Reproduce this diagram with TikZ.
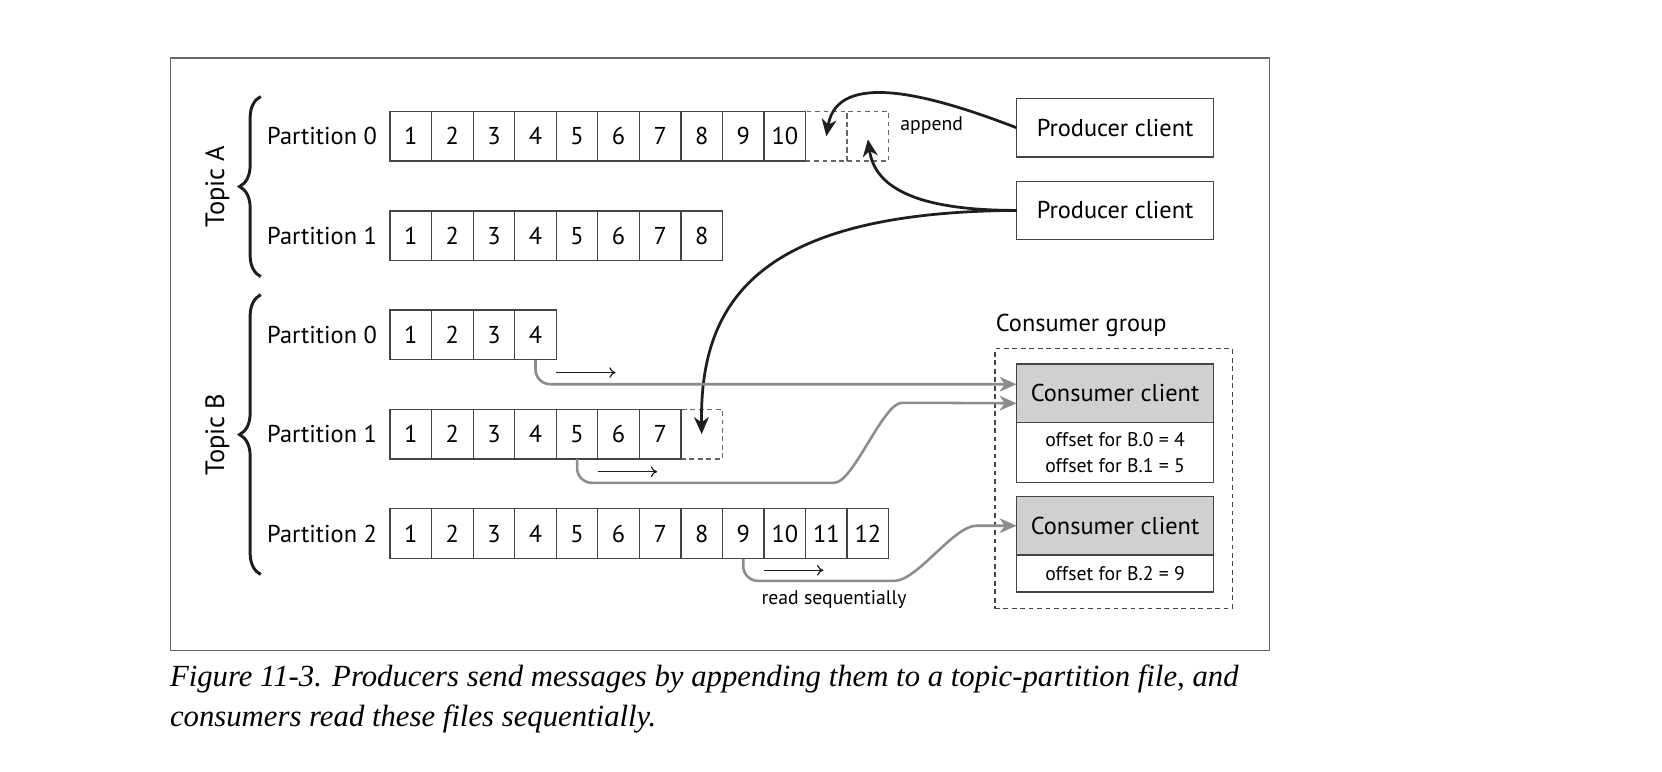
\documentclass[tikz,border=0pt]{standalone}
\usepackage{fontspec}
\setmainfont{PT Sans}
\newfontfamily\capfont{Liberation Serif}
\usetikzlibrary{arrows.meta,decorations.pathreplacing,calc}
\definecolor{linegray}{HTML}{444444}
\definecolor{framegray}{HTML}{666666}
\definecolor{readgray}{HTML}{8C8C8C}
\definecolor{headgray}{HTML}{D0D0D0}
\definecolor{inkdark}{HTML}{1E1E1E}
\tikzset{
  cell/.style={draw=linegray, line width=0.6pt, minimum width=19.6pt, minimum height=23.5pt,
    inner sep=0pt, outer sep=0pt, font=\fontsize{11.5}{13}\selectfont},
  dcell/.style={cell, draw=framegray, dash pattern=on 2.2pt off 1.8pt},
  plabel/.style={anchor=east, inner sep=0pt, font=\fontsize{11.5}{13}\selectfont},
  toplabel/.style={rotate=90, inner sep=0pt, font=\fontsize{12.5}{14}\selectfont},
  client/.style={draw=linegray, line width=0.6pt, minimum width=93pt, minimum height=27.5pt,
    inner sep=0pt, outer sep=0pt, font=\fontsize{11.5}{13}\selectfont},
  offbox/.style={client, align=center, font=\fontsize{9.3}{12}\selectfont},
  small/.style={inner sep=0pt, font=\fontsize{9.3}{11}\selectfont},
  bracestyle/.style={decorate, decoration={brace, amplitude=10pt, aspect=0.5}, line width=1.4pt, draw=inkdark},
  readarrow/.style={draw=readgray, line width=1.2pt, rounded corners=7pt,
    -{Stealth[length=8pt,width=7pt,inset=2.5pt]}},
  prodarrow/.style={draw=inkdark, line width=1.3pt, -{Stealth[length=8pt,width=7pt,inset=2.5pt]}},
  seqarrow/.style={draw=inkdark, line width=0.55pt, -{To[length=3pt,width=5pt]}},
  caption/.style={anchor=base west, inner sep=0pt, font=\capfont\itshape\fontsize{14.5}{17}\selectfont}
}
\begin{document}
\begin{tikzpicture}[x=0.5pt,y=-0.5pt]
\useasboundingbox (0,0) rectangle (1568,728);
% frame
\node[draw=framegray, line width=0.6pt, minimum width=518.5pt, minimum height=279.5pt,
  anchor=north west, inner sep=0pt] (frame) at (160,54) {};
% dashed (future) cells
\node[dcell] (a0-11) at ({368+39.2*10.5},128.5) {};
\node[dcell] (a0-12) at ({368+39.2*11.5},128.5) {};
\node[dcell] (b1-8) at ({368+39.2*7.5},409.5) {};
% cells
\foreach \r/\y/\n in {a0/128.5/10, a1/222.5/8, b0/316/4, b1/409.5/7, b2/503.5/12}{
  \foreach \i in {1,...,\n}{
    \node[cell] (\r-\i) at ({368+39.2*(\i-0.5)},\y) {\i};
  }
}
% partition labels
\node[plabel] (la0) at (356,128.5) {Partition 0};
\node[plabel] (la1) at (356,222.5) {Partition 1};
\node[plabel] (lb0) at (356,316) {Partition 0};
\node[plabel] (lb1) at (356,409.5) {Partition 1};
\node[plabel] (lb2) at (356,503.5) {Partition 2};
% topics
\draw[bracestyle] (246,261) -- (246,91);
\draw[bracestyle] (246,542) -- (246,278);
\node[toplabel] (ta) at (205,176) {Topic A};
\node[toplabel] (tb) at (205,410) {Topic B};
% producers
\node[client, anchor=north west] (p1) at (959,93) {Producer client};
\node[client, anchor=north west] (p2) at (959,171) {Producer client};
\node[small] (app) at (879,118) {append};
% consumer group
\node[draw=linegray, line width=0.6pt, dash pattern=on 2.2pt off 1.8pt, minimum width=112pt,
  minimum height=122.5pt, anchor=north west, inner sep=0pt] (cg) at (938,328.5) {};
\node[inner sep=0pt, font=\fontsize{11.5}{13}\selectfont] (cgl) at (1020,307) {Consumer group};
\node[client, fill=headgray, anchor=north west] (c1) at (959,343.5) {Consumer client};
\node[offbox, minimum height=28.5pt, anchor=north] (c1b) at (c1.south)
  {offset for B.0 = 4\\offset for B.1 = 5};
\node[client, fill=headgray, anchor=north west] (c2) at (959,468.5) {Consumer client};
\node[offbox, minimum height=17.5pt, anchor=north] (c2b) at (c2.south) {offset for B.2 = 9};
% producer arrows
\draw[prodarrow] (p1.west) .. controls (880,90) and (790,65) .. (a0-11.center);
\draw[prodarrow] (p2.west) .. controls (860,198.5) and (825,175) .. ($(a0-12.center)+(0,3)$);
\draw[prodarrow] (p2.west) .. controls (720,200) and (660,280) .. (b1-8.center);
% read arrows
\draw[readarrow] (b0-4.south) |- ($(c1.west)+(0,-8.5)$);
\draw[readarrow] (b1-5.south) |- (773,455.5) .. controls (805,455.5) and (833,380) .. (865,380)
  -- ($(c1.west)+(0,9.5)$);
\draw[readarrow] (b2-9.south) |- (830,548) .. controls (865,548) and (900,496) .. (935,496)
  -- (c2.west);
% sequential hints
\draw[seqarrow] ($(b0-4.south east)+(0,12)$) -- ++(56,0) coordinate (s0);
\draw[seqarrow] ($(b1-5.south east)+(0,12)$) -- ++(56,0) coordinate (s1);
\draw[seqarrow] ($(b2-9.south east)+(0,11)$) -- ++(56,0) coordinate (s2);
\node[small] (rs) at (787,566) {read sequentially};
% caption
\node[caption] (cap1) at (160,648) {Figure 11-3. Producers send messages by appending them to a topic-partition file, and};
\node[caption] (cap2) at (160,685) {consumers read these files sequentially.};
\end{tikzpicture}
\end{document}
